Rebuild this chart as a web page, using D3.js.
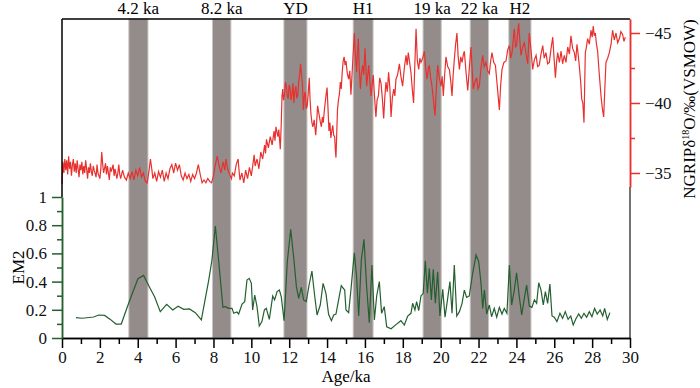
<!DOCTYPE html>
<html>
<head>
<meta charset="utf-8">
<script src="https://cdn.jsdelivr.net/npm/d3@7"></script>
<style>
  body { margin: 0; background: #fff; }
  svg { display: block; }
  text { font-family: "Times New Roman", "Liberation Serif", serif; }
</style>
</head>
<body>
<script>
// 事件带 (ka)
const bandNames = ["4.2 ka", "8.2 ka", "YD", "H1", "19 ka", "22 ka", "H2"];
const bandStart = [3.53, 7.95, 11.72, 15.38, 19.07, 21.56, 23.6];
const bandEnd   = [4.54, 8.92, 12.94, 16.43, 20.03, 22.53, 24.77];

// NGRIP δ18O: [age ka, ‰]
const ngrip = [
  [0.0,-34.2],[0.05,-35.8],[0.1,-35.0],[0.15,-36.0],[0.2,-35.2],[0.25,-35.9],[0.3,-34.9],[0.35,-36.2],[0.4,-35.3],[0.45,-35.8],
  [0.5,-34.8],[0.55,-35.6],[0.6,-36.0],[0.65,-35.1],[0.7,-35.7],[0.75,-35.0],[0.8,-35.9],[0.85,-35.3],[0.9,-34.7],[0.95,-35.6],
  [1.0,-35.2],[1.05,-35.8],[1.1,-34.9],[1.15,-35.5],[1.2,-35.0],[1.25,-35.9],[1.3,-35.3],[1.35,-34.6],[1.4,-35.4],[1.45,-35.0],
  [1.5,-35.7],[1.55,-35.1],[1.6,-34.8],[1.65,-35.5],[1.7,-35.2],[1.8,-34.7],[1.85,-35.6],[1.9,-35.0],[2.0,-34.6],[2.05,-35.3],
  [2.1,-36.5],[2.15,-35.6],[2.2,-35.0],[2.3,-35.7],[2.35,-34.9],[2.4,-35.5],[2.5,-34.5],[2.55,-35.4],[2.6,-35.1],[2.7,-35.6],
  [2.75,-34.8],[2.8,-35.3],[2.9,-34.6],[2.95,-35.0],[3.0,-35.6],[3.05,-34.9],[3.1,-34.6],[3.2,-35.2],[3.3,-34.7],[3.4,-34.5],
  [3.5,-35.0],[3.6,-34.6],[3.7,-35.1],[3.8,-34.5],[3.9,-35.2],[4.0,-34.8],[4.1,-35.4],[4.2,-34.7],[4.3,-35.0],[4.4,-34.4],
  [4.5,-34.3],[4.6,-35.2],[4.67,-36.0],[4.75,-35.2],[4.8,-34.6],[4.9,-35.0],[5.0,-34.4],[5.1,-35.1],[5.2,-34.7],[5.3,-35.2],
  [5.4,-34.4],[5.5,-35.0],[5.6,-34.6],[5.7,-35.3],[5.8,-35.6],[5.9,-35.0],[6.0,-35.7],[6.1,-35.2],[6.2,-35.6],[6.3,-34.8],
  [6.4,-34.5],[6.5,-35.0],[6.6,-34.6],[6.7,-34.9],[6.8,-34.4],[6.9,-34.9],[7.0,-34.6],[7.1,-35.0],[7.2,-35.6],[7.3,-34.9],
  [7.4,-34.3],[7.5,-34.5],[7.6,-34.3],[7.7,-34.6],[7.8,-34.4],[7.9,-34.3],[8.0,-34.8],[8.1,-35.6],[8.2,-36.2],[8.3,-35.5],
  [8.4,-35.0],[8.5,-35.8],[8.6,-35.2],[8.65,-36.0],[8.75,-35.3],[8.85,-34.9],[8.95,-34.6],[9.0,-35.0],[9.1,-34.8],[9.2,-35.6],
  [9.3,-36.0],[9.35,-35.2],[9.4,-34.5],[9.5,-35.0],[9.6,-34.3],[9.7,-35.2],[9.8,-34.6],[9.9,-35.4],[10.0,-34.8],[10.1,-35.8],
  [10.15,-36.3],[10.2,-35.5],[10.3,-36.0],[10.4,-35.3],[10.5,-36.5],[10.6,-36.0],[10.7,-37.0],[10.75,-36.4],[10.8,-37.4],[10.9,-36.8],
  [11.0,-37.6],[11.1,-37.0],[11.2,-38.0],[11.25,-37.3],[11.3,-38.3],[11.4,-37.6],[11.45,-38.1],[11.53,-36.7],[11.58,-38.5],[11.62,-40.5],
  [11.66,-41.0],[11.7,-40.2],[11.75,-40.6],[11.8,-41.5],[11.85,-41.2],[11.9,-40.5],[11.95,-40.3],[12.0,-41.3],[12.05,-41.0],[12.1,-40.2],
  [12.15,-40.6],[12.2,-41.4],[12.25,-40.0],[12.3,-40.8],[12.35,-41.2],[12.4,-40.4],[12.45,-40.5],[12.5,-41.5],[12.55,-42.0],[12.6,-42.8],
  [12.65,-42.0],[12.7,-41.3],[12.75,-39.5],[12.8,-40.5],[12.85,-40.8],[12.9,-39.6],[12.95,-39.8],[13.0,-40.6],[13.06,-41.8],[13.1,-40.3],
  [13.15,-39.2],[13.2,-38.6],[13.25,-38.3],[13.32,-38.8],[13.4,-37.7],[13.45,-38.6],[13.5,-39.8],[13.55,-39.4],[13.6,-39.0],[13.65,-38.6],
  [13.7,-38.3],[13.75,-39.0],[13.8,-38.6],[13.85,-39.4],[13.9,-40.0],[13.95,-40.6],[14.0,-41.1],[14.05,-39.6],[14.1,-38.0],[14.15,-38.6],
  [14.2,-37.5],[14.25,-38.0],[14.3,-38.4],[14.35,-37.7],[14.4,-37.6],[14.44,-36.6],[14.47,-36.1],[14.51,-37.8],[14.55,-39.5],[14.6,-40.2],
  [14.65,-40.6],[14.7,-41.5],[14.75,-41.0],[14.8,-42.2],[14.85,-43.0],[14.9,-43.3],[14.95,-42.7],[15.0,-43.0],[15.07,-42.1],[15.14,-41.7],
  [15.2,-42.3],[15.26,-40.6],[15.35,-42.8],[15.44,-45.0],[15.5,-43.4],[15.56,-42.2],[15.6,-43.5],[15.65,-44.6],[15.7,-42.5],[15.76,-41.0],
  [15.82,-42.2],[15.88,-42.7],[15.94,-42.0],[16.0,-43.9],[16.05,-42.6],[16.09,-41.2],[16.15,-42.0],[16.2,-42.7],[16.26,-41.6],[16.32,-40.5],
  [16.38,-41.3],[16.44,-42.0],[16.5,-40.6],[16.58,-39.0],[16.64,-40.2],[16.71,-40.5],[16.78,-41.8],[16.85,-41.4],[16.92,-40.3],[16.99,-38.9],
  [17.05,-40.4],[17.11,-41.5],[17.18,-40.8],[17.25,-42.2],[17.32,-41.0],[17.38,-39.0],[17.45,-40.4],[17.52,-41.0],[17.58,-40.5],[17.64,-41.7],
  [17.72,-42.0],[17.82,-42.8],[17.9,-41.9],[17.99,-41.2],[18.08,-42.5],[18.17,-43.4],[18.23,-42.7],[18.29,-43.6],[18.36,-42.9],[18.43,-42.2],
  [18.5,-41.0],[18.57,-40.0],[18.63,-42.5],[18.7,-45.3],[18.77,-43.0],[18.84,-42.4],[18.9,-43.2],[18.96,-42.9],[19.05,-43.2],[19.14,-43.7],
  [19.21,-42.5],[19.28,-41.7],[19.34,-42.4],[19.4,-42.7],[19.47,-41.8],[19.54,-41.2],[19.62,-40.2],[19.7,-39.1],[19.77,-41.0],[19.84,-42.7],
  [19.93,-41.8],[20.02,-41.2],[20.08,-41.9],[20.14,-40.5],[20.21,-42.0],[20.28,-43.3],[20.37,-42.6],[20.46,-42.4],[20.53,-41.6],[20.6,-40.5],
  [20.66,-42.0],[20.72,-43.1],[20.79,-44.2],[20.86,-45.0],[20.92,-43.4],[20.99,-42.4],[21.06,-43.3],[21.13,-42.9],[21.19,-43.4],[21.25,-43.7],
  [21.34,-42.2],[21.43,-40.9],[21.52,-42.6],[21.6,-44.0],[21.66,-42.5],[21.72,-41.0],[21.81,-41.5],[21.9,-41.8],[21.97,-41.0],[22.04,-41.2],
  [22.13,-42.5],[22.22,-43.4],[22.3,-42.6],[22.39,-42.9],[22.48,-42.3],[22.57,-42.1],[22.64,-43.0],[22.71,-43.6],[22.8,-42.9],[22.89,-42.7],
  [22.97,-41.5],[23.03,-40.6],[23.1,-39.5],[23.17,-41.3],[23.24,-42.4],[23.34,-42.9],[23.45,-43.0],[23.54,-43.8],[23.63,-44.1],[23.7,-43.2],
  [23.77,-43.6],[23.83,-44.5],[23.89,-45.3],[23.95,-44.0],[24.01,-44.1],[24.06,-44.9],[24.12,-45.7],[24.18,-44.5],[24.24,-43.4],[24.33,-44.0],
  [24.42,-44.3],[24.51,-43.5],[24.6,-42.8],[24.64,-44.0],[24.68,-45.0],[24.77,-43.8],[24.86,-42.4],[24.95,-43.1],[25.04,-43.4],[25.12,-42.6],
  [25.21,-42.7],[25.3,-43.5],[25.39,-44.1],[25.47,-43.2],[25.56,-43.6],[25.65,-42.8],[25.74,-42.9],[25.83,-43.9],[25.92,-44.7],[25.99,-43.2],
  [26.06,-41.8],[26.12,-42.9],[26.18,-43.6],[26.27,-42.9],[26.36,-43.7],[26.44,-42.8],[26.53,-43.4],[26.62,-42.9],[26.71,-44.0],[26.8,-43.5],
  [26.88,-44.8],[26.97,-43.9],[27.06,-43.6],[27.13,-43.0],[27.2,-44.2],[27.26,-43.5],[27.32,-42.7],[27.39,-41.6],[27.45,-40.3],[27.51,-40.0],
  [27.57,-38.6],[27.61,-41.5],[27.64,-43.6],[27.7,-44.0],[27.76,-44.6],[27.85,-44.2],[27.94,-45.2],[28.0,-44.7],[28.06,-45.5],[28.11,-44.8],
  [28.17,-45.0],[28.23,-44.2],[28.29,-43.7],[28.38,-42.0],[28.47,-40.5],[28.54,-39.6],[28.61,-39.0],[28.67,-41.0],[28.73,-42.9],[28.82,-43.2],
  [28.91,-43.6],[29.0,-44.2],[29.08,-45.2],[29.17,-44.5],[29.26,-45.0],[29.35,-44.3],[29.44,-44.6],[29.52,-45.1],[29.61,-44.9],[29.68,-44.4],
  [29.75,-44.7]
];

// EM2: [age ka, value]
const em2 = [
  [0.74,0.144],[1.06,0.14],[1.67,0.149],[1.94,0.163],[2.25,0.16],[2.55,0.132],[2.85,0.099],[3.13,0.099],[3.52,0.246],[4.01,0.42],
  [4.31,0.444],[4.61,0.364],[4.89,0.293],[5.19,0.187],[5.53,0.239],[5.85,0.199],[6.13,0.225],[6.43,0.203],[6.73,0.206],[7.04,0.18],
  [7.36,0.128],[7.75,0.411],[7.92,0.553],[8.1,0.794],[8.27,0.553],[8.5,0.218],[8.63,0.222],[8.8,0.21],[8.98,0.21],[9.07,0.175],
  [9.24,0.184],[9.33,0.17],[9.51,0.241],[9.65,0.258],[9.77,0.411],[9.89,0.423],[10.0,0.388],[10.07,0.199],[10.18,0.305],[10.3,0.222],
  [10.42,0.085],[10.56,0.116],[10.69,0.199],[10.79,0.21],[10.95,0.132],[11.13,0.298],[11.23,0.27],[11.36,0.329],[11.48,0.34],[11.58,0.293],
  [11.73,0.123],[11.9,0.541],[12.08,0.77],[12.25,0.553],[12.38,0.364],[12.5,0.281],[12.64,0.359],[12.76,0.27],[12.9,0.258],[13.06,0.383],
  [13.2,0.475],[13.33,0.317],[13.47,0.163],[13.64,0.234],[13.79,0.388],[13.94,0.317],[14.08,0.168],[14.23,0.123],[14.35,0.163],[14.47,0.17],
  [14.61,0.27],[14.75,0.371],[14.93,0.34],[15.0,0.199],[15.14,0.18],[15.26,0.34],[15.44,0.605],[15.56,0.435],[15.67,0.156],[15.81,0.553],
  [15.95,0.70],[16.09,0.364],[16.23,0.109],[16.37,0.518],[16.5,0.128],[16.62,0.298],[16.76,0.40],[16.88,0.175],[17.02,0.222],[17.15,0.08],
  [17.38,0.066],[17.64,0.095],[17.9,0.123],[18.08,0.092],[18.26,0.156],[18.43,0.175],[18.52,0.246],[18.64,0.199],[18.73,0.258],[18.84,0.194],
  [18.96,0.298],[19.08,0.317],[19.19,0.548],[19.3,0.317],[19.4,0.494],[19.51,0.27],[19.61,0.487],[19.72,0.246],[19.84,0.47],[19.96,0.156],
  [20.11,0.345],[20.23,0.147],[20.37,0.281],[20.49,0.40],[20.6,0.175],[20.72,0.518],[20.85,0.156],[20.99,0.187],[21.13,0.246],[21.25,0.34],
  [21.37,0.288],[21.51,0.298],[21.69,0.459],[21.87,0.589],[22.01,0.541],[22.13,0.388],[22.22,0.21],[22.31,0.34],[22.43,0.17],[22.57,0.234],
  [22.69,0.151],[22.83,0.21],[22.96,0.147],[23.1,0.217],[23.24,0.17],[23.36,0.21],[23.5,0.175],[23.63,0.518],[23.75,0.234],[23.89,0.34],
  [24.01,0.463],[24.15,0.298],[24.28,0.163],[24.42,0.281],[24.54,0.376],[24.68,0.227],[24.82,0.217],[24.95,0.27],[25.07,0.246],[25.18,0.392],
  [25.3,0.34],[25.42,0.234],[25.53,0.329],[25.65,0.246],[25.77,0.383],[25.88,0.156],[26.0,0.147],[26.14,0.116],[26.3,0.175],[26.44,0.139],
  [26.58,0.187],[26.73,0.132],[26.87,0.156],[27.0,0.092],[27.15,0.139],[27.29,0.17],[27.43,0.139],[27.57,0.175],[27.71,0.147],[27.85,0.187],
  [27.99,0.151],[28.13,0.21],[28.27,0.17],[28.42,0.199],[28.56,0.156],[28.66,0.21],[28.8,0.132],[28.94,0.18]
];

const xTicks = d3.range(0, 31, 2);
const xMinor = d3.range(1, 30, 2);
const emTicks = [0, 0.2, 0.4, 0.6, 0.8, 1];
const emMinor = [0.1, 0.3, 0.5, 0.7, 0.9];
const o18Ticks = [-45, -40, -35];
const o18Minor = [-42.5, -37.5];

const width = 700, height = 388;
const plotL = 62, plotR = 630, plotT = 19, plotB = 338;
const red = "#e8312f", green = "#245f2f", band = "#948c8a";

const svg = d3.select("body").append("svg")
    .attr("width", width)
    .attr("height", height);

const x = d3.scaleLinear().domain([0, 30]).range([plotL, plotR]);
const yEm = d3.scaleLinear().domain([0, 1]).range([plotB, 197]);
const yO = d3.scaleLinear().domain([-34, -46]).range([187, plotT]);

// 灰色事件带
svg.append("g")
    .selectAll("rect")
    .data(bandNames)
    .join("rect")
    .attr("x", (d, i) => x(bandStart[i]))
    .attr("width", (d, i) => x(bandEnd[i]) - x(bandStart[i]))
    .attr("y", plotT)
    .attr("height", plotB - plotT)
    .attr("fill", band)
    .attr("stroke", "#c9c5c3")
    .attr("stroke-width", 1);

svg.append("g")
    .selectAll("text")
    .data(bandNames)
    .join("text")
    .attr("x", (d, i) => x((bandStart[i] + bandEnd[i]) / 2))
    .attr("y", 14)
    .attr("text-anchor", "middle")
    .style("font-size", "17px")
    .text(d => d);

// 曲线
svg.append("path")
    .datum(ngrip)
    .attr("d", d3.line().x(d => x(d[0])).y(d => yO(d[1])))
    .attr("fill", "none")
    .attr("stroke", red)
    .attr("stroke-width", 1.2);

svg.append("path")
    .datum(em2)
    .attr("d", d3.line().x(d => x(d[0])).y(d => yEm(d[1])))
    .attr("fill", "none")
    .attr("stroke", green)
    .attr("stroke-width", 1.2);

// 边框
svg.append("line").attr("x1", plotL).attr("x2", plotR).attr("y1", plotT).attr("y2", plotT)
    .attr("stroke", "#000").attr("stroke-width", 1.5);
svg.append("line").attr("x1", plotL).attr("x2", plotL).attr("y1", plotT).attr("y2", 197)
    .attr("stroke", "#000").attr("stroke-width", 1.5);
svg.append("line").attr("x1", plotR).attr("x2", plotR).attr("y1", 187).attr("y2", plotB)
    .attr("stroke", "#444").attr("stroke-width", 1.5);

function styleAxis(g, color) {
    g.selectAll("path.domain").attr("stroke", color).attr("stroke-width", 1.5);
    g.selectAll(".tick line").attr("stroke", color).attr("stroke-width", 1.5);
    g.selectAll(".tick text").attr("fill", "#111")
        .style("font-size", "17px")
        .style("font-family", '"Times New Roman", "Liberation Serif", serif');
}

// x 轴
svg.append("g")
    .attr("transform", `translate(0,${plotB})`)
    .call(d3.axisBottom(x).tickValues(xMinor).tickSize(6).tickSizeOuter(0).tickFormat(""))
    .call(g => styleAxis(g, "#000"));
svg.append("g")
    .attr("transform", `translate(0,${plotB})`)
    .call(d3.axisBottom(x).tickValues(xTicks).tickSize(10).tickSizeOuter(0).tickPadding(3))
    .call(g => styleAxis(g, "#000"));

// EM2 轴
svg.append("g")
    .attr("transform", `translate(${plotL},0)`)
    .call(d3.axisLeft(yEm).tickValues(emMinor).tickSize(5).tickSizeOuter(0).tickFormat(""))
    .call(g => styleAxis(g, green));
svg.append("g")
    .attr("transform", `translate(${plotL},0)`)
    .call(d3.axisLeft(yEm).tickValues(emTicks).tickSize(10).tickSizeOuter(0).tickPadding(5)
        .tickFormat(d3.format("~g")))
    .call(g => styleAxis(g, green));

// δ18O 轴
svg.append("g")
    .attr("transform", `translate(${plotR},0)`)
    .call(d3.axisRight(yO).tickValues(o18Minor).tickSize(5).tickSizeOuter(0).tickFormat(""))
    .call(g => styleAxis(g, red));
svg.append("g")
    .attr("transform", `translate(${plotR},0)`)
    .call(d3.axisRight(yO).tickValues(o18Ticks).tickSize(10).tickSizeOuter(0).tickPadding(5))
    .call(g => styleAxis(g, red));

// 轴标题
svg.append("text")
    .attr("x", (plotL + plotR) / 2)
    .attr("y", 382)
    .attr("text-anchor", "middle")
    .style("font-size", "17px")
    .text("Age/ka");

svg.append("text")
    .attr("transform", `translate(24,${yEm(0.5)}) rotate(-90)`)
    .attr("text-anchor", "middle")
    .style("font-size", "17px")
    .text("EM2");

const rt = svg.append("text")
    .attr("transform", "translate(695,109) rotate(-90)")
    .attr("text-anchor", "middle")
    .style("font-size", "17px");
rt.append("tspan").text("NGRIPδ");
rt.append("tspan").attr("dy", -6).style("font-size", "10px").text("18");
rt.append("tspan").attr("dy", 6).text("O/‰(VSMOW)");
</script>
</body>
</html>
